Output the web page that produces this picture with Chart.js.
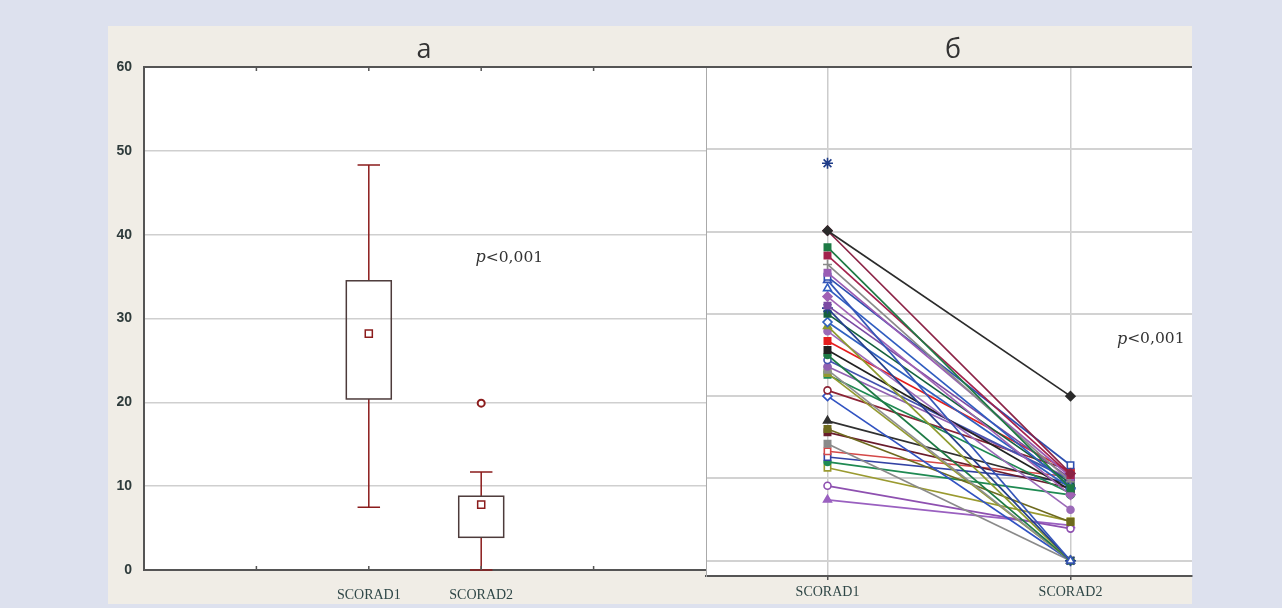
<!DOCTYPE html>
<html>
<head>
<meta charset="utf-8">
<script src="https://cdn.jsdelivr.net/npm/chart.js@4.4.1/dist/chart.umd.min.js"></script>
<style>
  html, body { margin: 0; padding: 0; }
  body { width: 1282px; height: 608px; background: #dde1ee; position: relative; overflow: hidden; }
  #panel { position: absolute; left: 108px; top: 26px; width: 1084px; height: 578px; background: #f0ede6; }
  canvas { position: absolute; }
  #boxChart { left: 108px; top: 26px; }
  #pairChart { left: 704px; top: 26px; }
</style>
</head>
<body>
<div id="panel"></div>
<canvas id="boxChart" width="600" height="578"></canvas>
<canvas id="pairChart" width="490" height="578"></canvas>
<script>
const categories = ['SCORAD1', 'SCORAD2'];
const yTicks = [0, 10, 20, 30, 40, 50, 60];

// panel а: box plot
const boxMin = [7.5, 0];
const boxQ1 = [20.4, 3.9];
const boxMean = [28.2, 7.8];
const boxQ3 = [34.5, 8.8];
const boxMax = [48.3, 11.7];
const outliers = [[], [19.9]];

// panel б: each patient before / after
const scorad1 = [48.3, 40.1, 40.1, 38.1, 37.1, 36.0, 35.0, 34.5, 34.1, 33.1, 32.1, 31.0, 30.7, 30.0, 29.0, 28.5, 27.9, 26.7, 25.6, 25.0, 24.4, 23.6, 23.2, 22.8, 22.6, 20.7, 20.0, 17.0, 16.0, 15.6, 14.2, 13.3, 12.6, 12.0, 11.3, 9.1, 7.4];
const scorad2 = [null, 20.0, 10.6, 8.8, 10.4, 9.6, 10.2, 11.6, 0, 9.0, 8.0, 10.0, 0, 9.4, 8.8, 0, 6.2, 10.8, 8.6, 0, 9.8, 10.0, 0, 0, 8.2, 11.0, 0, 9.2, 4.7, 8.8, 0, 10.2, 9.6, 8.0, 4.8, 3.9, 4.3];

const lineColors = ['#1f3c88', '#2b2b2b', '#8b2346', '#1e7a45', '#a3224d', '#8a8a8a', '#9a5cb4', '#2d4fb0', '#3556b8', '#2f5cc0', '#a062b4', '#7b4aa3', '#243f8c', '#15603e', '#2f60c0', '#8d9a2e', '#9b6ab8', '#e41e1e', '#222222', '#1e7a45', '#4352b0', '#9060b0', '#8f8f8f', '#939a30', '#1f8a52', '#8b2234', '#3153c2', '#303030', '#6e6a1e', '#6a1c2c', '#8a8a8a', '#d44848', '#3242a4', '#1f8a52', '#9a9a30', '#8e50b0', '#9a60c0'];
const markers = ['star', 'rectRot', 'rectRot', 'rect', 'rect', 'cross', 'rect', 'rect', 'triangle', 'triangle', 'rectRot', 'rect', 'star', 'rect', 'rectRot', 'triangle', 'circle', 'rect', 'rect', 'circle', 'circle', 'circle', 'rect', 'rect', 'rect', 'circle', 'rectRot', 'triangle', 'rect', 'rect', 'rect', 'rect', 'rect', 'circle', 'rect', 'circle', 'triangle'];
const hollow = [false, false, false, false, false, false, false, true, true, true, false, false, false, false, true, false, false, false, false, false, true, false, false, false, true, true, true, false, false, false, false, true, true, false, true, true, false];

Chart.defaults.font.family = '"Liberation Sans", Arial, sans-serif';
Chart.defaults.animation = false;

const whiteArea = {
  id: 'whiteArea',
  beforeDraw(chart) {
    const { ctx, chartArea: a } = chart;
    ctx.save();
    ctx.fillStyle = '#ffffff';
    ctx.fillRect(a.left, a.top, a.right - a.left, a.bottom - a.top);
    ctx.restore();
  }
};

// title letter + p-value, drawn over the chart area
const labels = {
  id: 'labels',
  afterDraw(chart, args, opts) {
    const { ctx, chartArea: a, scales: { x, y } } = chart;
    ctx.save();
    ctx.fillStyle = '#333';
    ctx.font = '27px "Open Sans", sans-serif';
    ctx.textAlign = 'center';
    ctx.textBaseline = 'alphabetic';
    ctx.fillText(opts.title, (a.left + a.right) / 2 + opts.titleShift, 32);

    const px = x.getPixelForValue(opts.pX), py = y.getPixelForValue(opts.pY);
    ctx.textAlign = 'left';
    ctx.textBaseline = 'middle';
    ctx.font = 'italic 16px "DejaVu Serif", serif';
    const pw = ctx.measureText('p').width;
    ctx.font = '15.5px "DejaVu Serif", serif';
    const rw = ctx.measureText('<0,001').width;
    const left = px - (pw + rw) / 2;
    ctx.font = 'italic 16px "DejaVu Serif", serif';
    ctx.fillText('p', left, py);
    ctx.font = '15.5px "DejaVu Serif", serif';
    ctx.fillText('<0,001', left + pw, py);

    // top border
    ctx.strokeStyle = '#555';
    ctx.lineWidth = 2;
    ctx.beginPath();
    ctx.moveTo(a.left, a.top);
    ctx.lineTo(a.right, a.top);
    ctx.stroke();
    // small inner tick marks
    ctx.lineWidth = 1.5;
    ctx.beginPath();
    opts.tickMarks.forEach(v => {
      const tx = x.getPixelForValue(v);
      ctx.moveTo(tx, a.top);
      ctx.lineTo(tx, a.top + 4);
      ctx.moveTo(tx, a.bottom);
      ctx.lineTo(tx, a.bottom - 4);
    });
    ctx.stroke();
    ctx.restore();
  }
};

const boxPlot = {
  id: 'boxPlot',
  beforeDatasetsDraw(chart) {
    const { ctx, scales: { x, y } } = chart;
    ctx.save();
    categories.forEach((c, i) => {
      const cx = x.getPixelForValue(i);
      const bl = x.getPixelForValue(i - 0.2), br = x.getPixelForValue(i + 0.2);
      const cl = x.getPixelForValue(i - 0.1), cr = x.getPixelForValue(i + 0.1);
      const yMin = y.getPixelForValue(boxMin[i]), yMax = y.getPixelForValue(boxMax[i]);
      const yQ1 = y.getPixelForValue(boxQ1[i]), yQ3 = y.getPixelForValue(boxQ3[i]);
      ctx.strokeStyle = '#8b1c1c';
      ctx.lineWidth = 1.5;
      ctx.beginPath();
      ctx.moveTo(cx, yMax); ctx.lineTo(cx, yQ3);
      ctx.moveTo(cx, yQ1); ctx.lineTo(cx, yMin);
      ctx.moveTo(cl, yMax); ctx.lineTo(cr, yMax);
      ctx.moveTo(cl, yMin); ctx.lineTo(cr, yMin);
      ctx.stroke();
      ctx.strokeStyle = '#4d3b3b';
      ctx.strokeRect(bl, yQ3, br - bl, yQ1 - yQ3);
    });
    ctx.restore();
  }
};

const tickFont = { family: '"Liberation Serif", "Times New Roman", serif', size: 14 };
const noSidePadding = s => { s.paddingLeft = 0; s.paddingRight = 0; };

new Chart(document.getElementById('boxChart'), {
  type: 'scatter',
  data: {
    datasets: [
      {
        data: categories.map((c, i) => ({ x: i, y: boxMean[i] })),
        pointStyle: 'rect', pointRadius: 5, borderWidth: 1.5,
        borderColor: '#8b1c1c', backgroundColor: '#ffffff'
      },
      {
        data: outliers.flatMap((list, i) => list.map(v => ({ x: i, y: v }))),
        pointStyle: 'circle', pointRadius: 3.5, borderWidth: 2,
        borderColor: '#8b1c1c', backgroundColor: '#ffffff'
      }
    ]
  },
  options: {
    responsive: false,
    devicePixelRatio: 1,
    layout: { autoPadding: false, padding: { top: 41, right: 2, left: 0, bottom: 0 } },
    plugins: {
      legend: { display: false },
      tooltip: { enabled: false },
      labels: { title: 'а', titleShift: -1, pX: 1.25, pY: 37.2, tickMarks: [-1, 0, 1, 2] }
    },
    scales: {
      x: {
        type: 'linear', min: -2, max: 3,
        afterBuildTicks: s => { s.ticks = categories.map((c, i) => ({ value: i })); },
        afterFit: s => { s.height = 34; noSidePadding(s); },
        grid: { display: false },
        border: { display: true, color: '#555', width: 2 },
        ticks: { callback: v => categories[v] ?? '', font: tickFont, color: '#2f4747', padding: 9, maxRotation: 0 }
      },
      y: {
        min: 0, max: 60,
        afterBuildTicks: s => { s.ticks = yTicks.map(v => ({ value: v })); },
        afterFit: s => { s.width = 36; },
        grid: { color: '#cfcfcf', lineWidth: 1.5, drawTicks: false },
        border: { display: true, color: '#555', width: 2 },
        ticks: { font: { size: 14, weight: 'bold' }, color: '#2e3b3b', padding: 12 }
      }
    }
  },
  plugins: [whiteArea, boxPlot, labels]
});

const pairSets = scorad1.map((v, i) => ({
  data: [{ x: 0, y: v }, { x: 1, y: scorad2[i] }],
  showLine: true,
  borderColor: lineColors[i],
  borderWidth: 1.7,
  pointStyle: markers[i],
  pointRadius: markers[i] === 'star' ? 5.5 : (markers[i] === 'circle' ? 3.5 : 4.5),
  pointBorderWidth: 1.6,
  pointBorderColor: lineColors[i],
  pointBackgroundColor: hollow[i] ? '#ffffff' : lineColors[i]
}));

new Chart(document.getElementById('pairChart'), {
  type: 'scatter',
  data: { datasets: pairSets },
  options: {
    responsive: false,
    devicePixelRatio: 1,
    layout: { autoPadding: false, padding: { top: 41, right: 2, left: 0, bottom: 0 } },
    plugins: {
      legend: { display: false },
      tooltip: { enabled: false },
      labels: { title: 'б', titleShift: 4, pX: 1.33, pY: 26.9, tickMarks: [] }
    },
    scales: {
      x: {
        type: 'linear', min: -0.5, max: 1.5,
        afterBuildTicks: s => { s.ticks = categories.map((c, i) => ({ value: i })); },
        afterFit: s => { s.height = 28; noSidePadding(s); },
        grid: { color: '#cccccc', lineWidth: 1.5, tickLength: 4, tickColor: '#555' },
        border: { display: true, color: '#555', width: 2 },
        ticks: { callback: v => categories[v] ?? '', font: tickFont, color: '#2f4747', padding: 4, maxRotation: 0 }
      },
      y: {
        min: -1.86, max: 60,
        afterBuildTicks: s => { s.ticks = yTicks.map(v => ({ value: v })); },
        afterFit: s => { s.width = 2; },
        grid: { color: '#d2d2d2', lineWidth: 2, drawTicks: false },
        border: { display: true, color: '#aaaaaa', width: 1 },
        ticks: { display: false }
      }
    }
  },
  plugins: [whiteArea, labels]
});
</script>
</body>
</html>
